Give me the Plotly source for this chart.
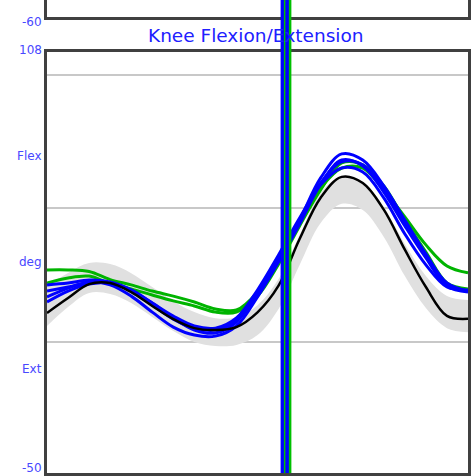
import plotly.graph_objects as go

# % gait cycle
x_pct = list(range(0, 101, 5))

# knee flexion (deg)
black = [10.8, 16.4, 21.6, 22.0, 18.6, 13.4, 8.5, 5.1, 4.4, 5.5, 11.0, 21.0, 38.5, 54.0, 61.8, 59.5, 49.5, 34.5, 20.5, 9.7, 8.6]
blue1 = [21.3, 22.0, 23.1, 22.4, 19.4, 14.5, 8.9, 4.4, 3.3, 7.4, 18.3, 31.4, 45.6, 61.4, 70.4, 68.1, 58.4, 45.6, 32.9, 22.0, 19.0]
blue2 = [16.8, 20.1, 22.4, 21.3, 17.1, 11.1, 5.5, 2.5, 2.1, 5.9, 16.8, 29.9, 44.1, 59.1, 68.1, 65.9, 56.1, 43.4, 31.4, 20.9, 18.6]
blue3 = [19.0, 20.5, 22.0, 22.0, 19.4, 14.5, 9.6, 5.9, 5.1, 8.9, 19.4, 32.5, 46.4, 58.8, 65.1, 63.6, 53.9, 40.4, 28.8, 20.5, 19.4]
blue4 = [14.9, 19.0, 21.6, 22.0, 19.0, 13.8, 8.5, 5.1, 4.4, 8.1, 18.6, 31.8, 45.2, 59.5, 67.4, 66.3, 56.9, 44.1, 31.8, 21.3, 19.0]
green1 = [26.9, 26.9, 26.3, 23.3, 21.3, 19.0, 17.1, 14.9, 12.3, 11.9, 18.6, 30.6, 44.9, 57.6, 65.1, 65.1, 56.9, 46.8, 36.3, 28.4, 25.8]
green2 = [22.0, 23.9, 24.6, 21.8, 19.8, 17.5, 15.3, 13.4, 11.1, 11.1, 17.1, 29.1, 43.4, 56.9, 67.0, 66.3, 58.4, 45.6, 33.6, 22.0, 19.8]

# normative band (mean, sd)
norm_mean = [13.4, 19.4, 23.9, 23.5, 20.1, 14.9, 9.6, 5.5, 3.6, 4.0, 8.1, 17.9, 34.4, 50.1, 56.9, 54.6, 44.9, 30.6, 18.6, 11.1, 9.6]
norm_sd = [7.5, 6.4, 5.6, 5.6, 5.6, 5.6, 5.6, 5.6, 5.2, 5.2, 5.6, 5.6, 5.6, 5.6, 5.2, 5.2, 5.6, 6.0, 6.0, 6.0, 6.0]

# foot-off events (% gait cycle)
blue_events = [55.9, 57.0]
green_events = [56.45, 57.75]

grid_vals = [0, 50, 100]
title_text = "Knee Flexion/Extension"
label_color = "#4848ff"

fig = go.Figure()

upper = [m + s for m, s in zip(norm_mean, norm_sd)]
lower = [m - s for m, s in zip(norm_mean, norm_sd)]
fig.add_trace(go.Scatter(x=x_pct, y=upper, mode="lines", line=dict(width=0, shape="spline", color="#e0e0e0"), showlegend=False, hoverinfo="skip"))
fig.add_trace(go.Scatter(x=x_pct, y=lower, mode="lines", line=dict(width=0, shape="spline", color="#e0e0e0"), fill="tonexty", fillcolor="#e0e0e0", showlegend=False, hoverinfo="skip"))

for g in [green1, green2]:
    fig.add_trace(go.Scatter(x=x_pct, y=g, mode="lines", line=dict(color="#00b400", width=3, shape="spline"), showlegend=False))
for b in [blue1, blue2, blue3, blue4]:
    fig.add_trace(go.Scatter(x=x_pct, y=b, mode="lines", line=dict(color="#0000ff", width=3, shape="spline"), showlegend=False))
fig.add_trace(go.Scatter(x=x_pct, y=black, mode="lines", line=dict(color="#000000", width=2.5, shape="spline"), showlegend=False))

# top panel placeholder trace (empty axes)
fig.add_trace(go.Scatter(x=[None], y=[None], xaxis="x2", yaxis="y2", showlegend=False))

shapes = []
for ev, w in zip(blue_events, [3.5, 4.5]):
    shapes.append(dict(type="line", xref="x", yref="paper", x0=ev, x1=ev, y0=0, y1=1, line=dict(color="#0000ff", width=w)))
for ev, w in zip(green_events, [1.5, 2.5]):
    shapes.append(dict(type="line", xref="x", yref="paper", x0=ev, x1=ev, y0=0, y1=1, line=dict(color="#00c000", width=w)))

H = 473.0
def py(p):
    return (H - p) / H

lx = -3 / 421
ann = []
font_lab = dict(family="DejaVu Sans", size=12, color=label_color)
for txt, p in [("-60", 22), ("108", 50), ("Flex", 156), ("deg", 262), ("Ext", 369), ("-50", 468)]:
    ann.append(dict(text=txt, x=lx, y=py(p), xref="paper", yref="paper", xanchor="right", yanchor="middle", showarrow=False, font=font_lab))
ann.append(dict(text=title_text, x=(256 - 47) / 421, y=py(36), xref="paper", yref="paper", xanchor="center", yanchor="middle", showarrow=False,
                font=dict(family="DejaVu Sans", size=18.5, color="#2020ff")))

fig.update_layout(
    width=475, height=476,
    margin=dict(l=47, r=7, t=0, b=3),
    paper_bgcolor="white", plot_bgcolor="white",
    xaxis=dict(range=[0, 100], showgrid=False, zeroline=False, showticklabels=False, ticks="",
               showline=True, mirror=True, linecolor="#404040", linewidth=2.5),
    yaxis=dict(range=[-49.2, 108.6], domain=[0, py(52)], tickvals=grid_vals, showticklabels=False, ticks="",
               showgrid=True, gridcolor="#c8c8c8", gridwidth=1.5, zeroline=False,
               showline=True, mirror=True, linecolor="#404040", linewidth=2.5),
    xaxis2=dict(range=[0, 100], anchor="y2", showgrid=False, zeroline=False, showticklabels=False, ticks="",
                showline=True, linecolor="#404040", linewidth=2.5),
    yaxis2=dict(range=[-60, 0], domain=[py(17), 1], anchor="x2", showgrid=False, zeroline=False, showticklabels=False, ticks="",
                showline=True, mirror=True, linecolor="#404040", linewidth=2.5),
    shapes=shapes,
    annotations=ann,
)

fig.write_html("out.html", config={"displayModeBar": False},
               post_script="document.body.style.margin='0';document.body.style.overflow='hidden';")
